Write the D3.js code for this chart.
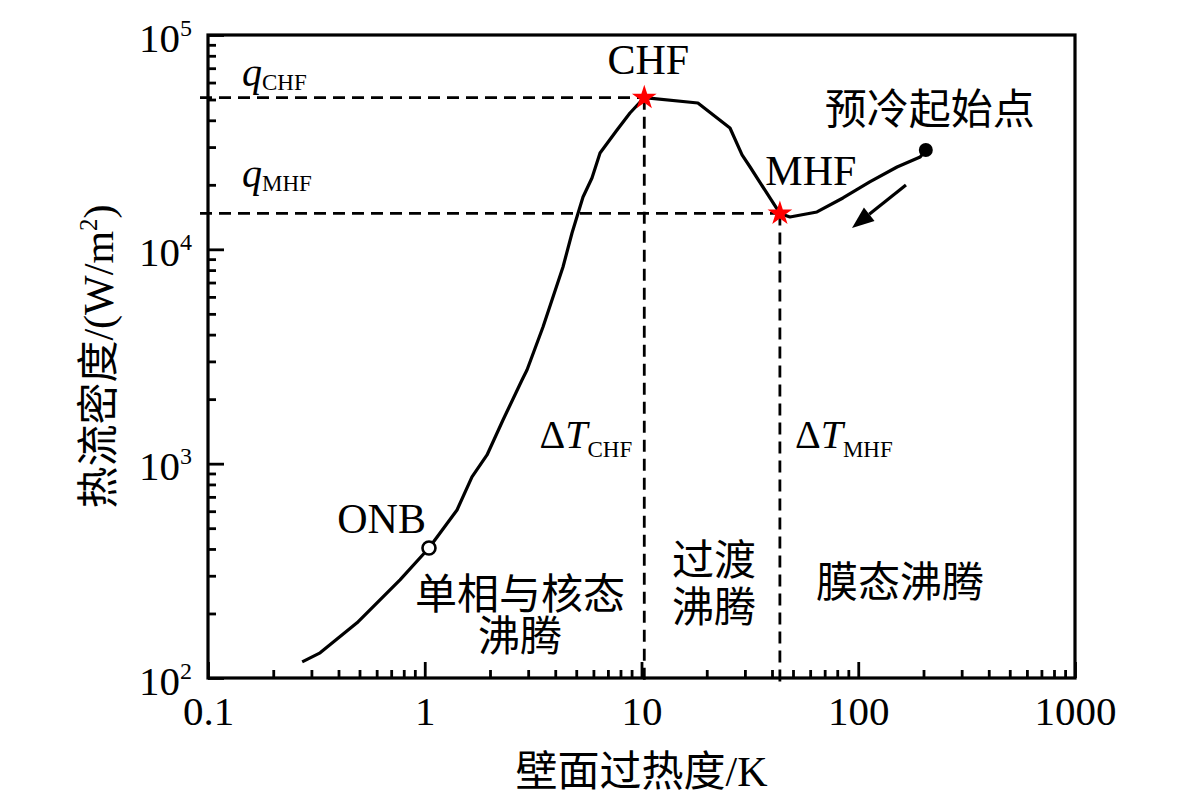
<!DOCTYPE html>
<html>
<head>
<meta charset="utf-8">
<script src="https://cdn.jsdelivr.net/npm/d3@7.9.0/dist/d3.min.js"></script>
<style>
  body { margin: 0; background: #fff; }
  svg { display: block; font-family: "Liberation Serif", "Times New Roman", "Noto Sans CJK SC", serif; }
  svg text { font-family: "Liberation Serif", "Times New Roman", "Noto Sans CJK SC", serif; }
</style>
</head>
<body>
<div id="chart"></div>
<script>
// boiling curve: wall superheat (K) vs heat flux (W/m2)
const superheat = [0.272, 0.329, 0.487, 0.769, 1.046, 1.409, 1.652, 1.938, 2.296, 2.81, 2.963,
  3.512, 4.343, 4.78, 5.372, 5.909, 6.437, 7.709, 8.849, 10.3, 18.2, 25.6, 29.1, 31.7,
  43.5, 48.4, 64.5, 85.0, 113, 151, 193, 205];
const heatFlux = [119, 131, 181, 287, 404, 608, 867, 1098, 1599, 2457, 2735,
  4342, 8273, 11920, 17550, 21530, 28150, 36050, 43260, 51000, 48170, 36820, 27560, 24220,
  14700, 14150, 14940, 17360, 20620, 24220, 26970, 29080];

// key points
const chf = { x: 10.3, q: 51000 };
const mhf = { x: 43.5, q: 14700 };
const onb = { x: 1.046, q: 404 };
const startPt = { x: 205, q: 29080 };
const arrowFrom = { x: 166, q: 19960 };
const arrowTo = { x: 93.6, q: 12580 };

const xTicks = [0.1, 1, 10, 100, 1000];
const yTicks = [1e2, 1e3, 1e4, 1e5];
const xLabels = ["0.1", "1", "10", "100", "1000"];
const yExponents = ["2", "3", "4", "5"];

const width = 1181;
const height = 796;
const plot = { left: 208, right: 1075, top: 35, bottom: 678 };

const svg = d3.select("#chart")
  .append("svg")
  .attr("width", width)
  .attr("height", height)
  .style("background", "white");

const x = d3.scaleLog().domain([0.1, 1000]).range([plot.left, plot.right]);
const y = d3.scaleLog().domain([1e2, 1e5]).range([plot.bottom, plot.top]);

const minorOf = (decades) => decades.flatMap(d => d3.range(2, 10).map(k => d * k));
const xMinor = minorOf([0.1, 1, 10, 100]);
const yMinor = minorOf([1e2, 1e3, 1e4]);

// strip d3's default axis styling so the page font is used
const plain = g => g
  .attr("font-family", null)
  .attr("font-size", null)
  .call(g => g.select(".domain").remove())
  .call(g => g.selectAll("line").attr("stroke-width", 2.8));

// x axis ticks (inward)
svg.append("g")
  .attr("transform", `translate(0,${plot.bottom})`)
  .call(d3.axisBottom(x).tickValues(xMinor).tickSize(-8).tickFormat(""))
  .call(plain);

svg.append("g")
  .attr("transform", `translate(0,${plot.bottom})`)
  .call(d3.axisBottom(x).tickValues(xTicks).tickSize(-16).tickFormat((d, i) => xLabels[i]))
  .call(plain)
  .call(g => g.selectAll("text")
    .attr("y", 47).attr("dy", null)
    .attr("font-size", 41).attr("fill", "#000"));

// y axis ticks (inward)
svg.append("g")
  .attr("transform", `translate(${plot.left},0)`)
  .call(d3.axisLeft(y).tickValues(yMinor).tickSize(-8).tickFormat(""))
  .call(plain);

const gy = svg.append("g")
  .attr("transform", `translate(${plot.left},0)`)
  .call(d3.axisLeft(y).tickValues(yTicks).tickSize(-16).tickFormat(""))
  .call(plain);

gy.selectAll(".tick text").each(function (d, i) {
  const t = d3.select(this)
    .attr("x", -16).attr("dy", 16)
    .attr("font-size", 41).attr("fill", "#000")
    .text("10");
  t.append("tspan").attr("dy", -16).attr("font-size", 24).text(yExponents[i]);
});

// frame
svg.append("rect")
  .attr("x", plot.left).attr("y", plot.top)
  .attr("width", plot.right - plot.left).attr("height", plot.bottom - plot.top)
  .attr("fill", "none").attr("stroke", "#000").attr("stroke-width", 3.2);

// dashed guide lines
const guides = svg.append("g")
  .attr("stroke", "#000").attr("stroke-width", 2.8)
  .attr("stroke-dasharray", "12 7").attr("fill", "none");

[chf, mhf].forEach(p => {
  guides.append("line")
    .attr("x1", x(0.1) - 8).attr("x2", x(p.x))
    .attr("y1", y(p.q)).attr("y2", y(p.q));
  guides.append("line")
    .attr("x1", x(p.x)).attr("x2", x(p.x))
    .attr("y1", y(p.q)).attr("y2", y(1e2) + 4);
});

// boiling curve
const curve = superheat.map((d, i) => [d, heatFlux[i]]);
svg.append("path")
  .datum(curve)
  .attr("d", d3.line().x(d => x(d[0])).y(d => y(d[1])))
  .attr("fill", "none")
  .attr("stroke", "#000")
  .attr("stroke-width", 3.2)
  .attr("stroke-linejoin", "round");

// markers
const star = d3.symbol().type(d3.symbolStar).size(190);
[chf, mhf].forEach(p => {
  svg.append("path")
    .attr("d", star())
    .attr("transform", `translate(${x(p.x)},${y(p.q)})`)
    .attr("fill", "#ff0000");
});

svg.append("circle")
  .attr("cx", x(onb.x)).attr("cy", y(onb.q)).attr("r", 6.5)
  .attr("fill", "#fff").attr("stroke", "#000").attr("stroke-width", 2.6);

svg.append("circle")
  .attr("cx", x(startPt.x)).attr("cy", y(startPt.q)).attr("r", 7)
  .attr("fill", "#000");

// direction arrow
{
  const x0 = x(arrowFrom.x), y0 = y(arrowFrom.q);
  const x1 = x(arrowTo.x), y1 = y(arrowTo.q);
  const ang = Math.atan2(y1 - y0, x1 - x0);
  const headLen = 22, headHalf = 8.5;
  const bx = x1 - headLen * Math.cos(ang), by = y1 - headLen * Math.sin(ang);
  svg.append("line")
    .attr("x1", x0).attr("y1", y0).attr("x2", bx).attr("y2", by)
    .attr("stroke", "#000").attr("stroke-width", 3.2);
  const px = -Math.sin(ang) * headHalf, py = Math.cos(ang) * headHalf;
  svg.append("path")
    .attr("d", `M${x1},${y1}L${bx + px},${by + py}L${bx - px},${by - py}Z`)
    .attr("fill", "#000");
}

// annotations
const label = (tx, ty, anchor, size) => svg.append("text")
  .attr("x", tx).attr("y", ty)
  .attr("text-anchor", anchor)
  .attr("font-size", size)
  .attr("fill", "#000");

label(x(chf.x) + 4, y(chf.q) - 24, "middle", 42).text("CHF");
label(x(mhf.x) + 31, y(mhf.q) - 28, "middle", 42).text("MHF");
label(x(onb.x) - 3, y(onb.q) - 15, "end", 42).text("ONB");
label(x(startPt.x) + 4, 124, "middle", 42).text("预冷起始点");

const qLabel = (ty, sub) => {
  const t = label(242, ty, "start", 40);
  t.append("tspan").attr("font-style", "italic").text("q");
  t.append("tspan").attr("dy", 4).attr("font-size", 23).text(sub);
};
qLabel(86, "CHF");
qLabel(187, "MHF");

const dtLabel = (tx, anchor, sub) => {
  const t = label(tx, 448, anchor, 40);
  t.append("tspan").text("Δ");
  t.append("tspan").attr("font-style", "italic").text("T");
  t.append("tspan").attr("dy", 9).attr("font-size", 23).text(sub);
};
dtLabel(x(chf.x) - 12, "end", "CHF");
dtLabel(x(mhf.x) + 15, "start", "MHF");

const multi = (cx, baselines, lines) => {
  lines.forEach((s, i) => label(cx, baselines[i], "middle", 42).text(s));
};
multi(520, [609, 651], ["单相与核态", "沸腾"]);
multi((x(chf.x) + x(mhf.x)) / 2 + 2, [575, 622], ["过渡", "沸腾"]);
multi(900, [597], ["膜态沸腾"]);

// axis titles
label((plot.left + plot.right) / 2, 786, "middle", 42).text("壁面过热度/K");

const yt = svg.append("text")
  .attr("transform", `translate(113,${(plot.top + plot.bottom) / 2}) rotate(-90)`)
  .attr("text-anchor", "middle")
  .attr("font-size", 42)
  .attr("fill", "#000");
yt.append("tspan").text("热流密度/(W/m");
yt.append("tspan").attr("dy", -16).attr("font-size", 25).text("2");
yt.append("tspan").attr("dy", 16).text(")");
</script>
</body>
</html>
